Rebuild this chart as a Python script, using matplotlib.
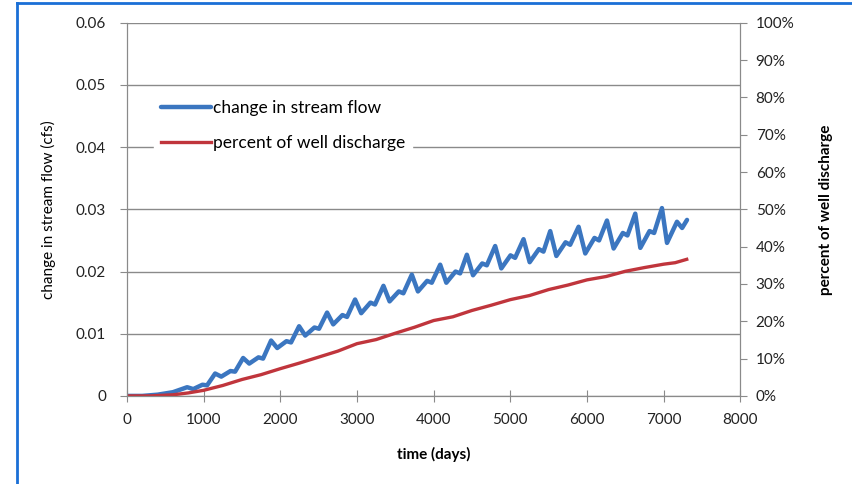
import matplotlib.pyplot as plt
from matplotlib.lines import Line2D
from matplotlib.ticker import FuncFormatter

# change in stream flow (cfs)
flow_days = [0, 200, 400, 600,
             785, 865, 985, 1045, 1150, 1230, 1350, 1410,
             1515, 1595, 1715, 1775, 1880, 1960, 2080, 2140,
             2245, 2325, 2445, 2505, 2610, 2690, 2810, 2870,
             2975, 3055, 3175, 3235, 3345, 3425, 3545, 3605,
             3715, 3795, 3915, 3975, 4085, 4165, 4285, 4345,
             4433, 4513, 4633, 4693, 4802, 4882, 5002, 5062,
             5172, 5252, 5372, 5432, 5520, 5600, 5720, 5780,
             5890, 5977, 6097, 6157, 6260, 6347, 6467, 6527,
             6629, 6695, 6815, 6875, 6977, 7043, 7173, 7240, 7304]
flow_cfs = [0.0, 0.0, 0.0002, 0.0006,
            0.0014, 0.0011, 0.0018, 0.0017, 0.0036, 0.0031, 0.0040, 0.0039,
            0.0061, 0.0052, 0.0062, 0.0060, 0.0089, 0.0077, 0.0088, 0.0086,
            0.0112, 0.0097, 0.0110, 0.0108, 0.0134, 0.0115, 0.0130, 0.0127,
            0.0155, 0.0133, 0.0150, 0.0147, 0.0177, 0.0152, 0.0168, 0.0165,
            0.0195, 0.0168, 0.0185, 0.0182, 0.0211, 0.0182, 0.0200, 0.0197,
            0.0227, 0.0194, 0.0213, 0.0210, 0.0241, 0.0205, 0.0226, 0.0222,
            0.0252, 0.0215, 0.0236, 0.0232, 0.0265, 0.0225, 0.0247, 0.0243,
            0.0272, 0.0229, 0.0254, 0.0250, 0.0282, 0.0237, 0.0262, 0.0258,
            0.0293, 0.0238, 0.0265, 0.0262, 0.0302, 0.0246, 0.0280, 0.0270, 0.0283]

# percent of well discharge
pct_days = [0, 300, 600, 800, 1000, 1250, 1500, 1750, 2000, 2250, 2500,
            2750, 3000, 3250, 3500, 3750, 4000, 4250, 4500, 4750, 5000,
            5250, 5500, 5750, 6000, 6250, 6500, 6750, 7000, 7150, 7300]
pct_discharge = [0.0, 0.0, 0.3, 0.8, 1.5, 2.8, 4.4, 5.7, 7.3, 8.8, 10.4,
                 12.0, 14.0, 15.1, 16.8, 18.4, 20.2, 21.2, 22.9, 24.3, 25.8,
                 26.9, 28.5, 29.7, 31.1, 32.0, 33.4, 34.4, 35.3, 35.7, 36.6]

x_ticks = list(range(0, 8001, 1000))
left_ticks = [0, 0.01, 0.02, 0.03, 0.04, 0.05, 0.06]
right_ticks = list(range(0, 101, 10))

plt.rcParams["font.family"] = ["Lato", "DejaVu Sans"]
grey = "#8a8a8a"
blue = "#3b76c0"
red = "#c0353c"

fig = plt.figure(figsize=(8.52, 4.84), dpi=100)
ax = fig.add_axes([0.149, 0.182, 0.720, 0.771])
ax2 = ax.twinx()

ln1, = ax.plot(flow_days, flow_cfs, color=blue, lw=3.2,
               solid_joinstyle="round", solid_capstyle="round")
ln2, = ax2.plot(pct_days, pct_discharge, color=red, lw=2.4)

ax.set_xlim(0, 8000)
ax.set_ylim(0, 0.06)
ax2.set_ylim(0, 100)
ax.set_xticks(x_ticks)
ax.set_yticks(left_ticks)
ax.set_yticklabels(["0", "0.01", "0.02", "0.03", "0.04", "0.05", "0.06"])
ax2.set_yticks(right_ticks)
ax2.yaxis.set_major_formatter(FuncFormatter(lambda v, p: f"{int(v)}%"))

ax.grid(True, axis="y", color=grey, lw=1.0)
ax.set_axisbelow(True)

for a in (ax, ax2):
    a.spines["top"].set_visible(False)
    for s in ("left", "right", "bottom"):
        a.spines[s].set_color(grey)
    a.tick_params(colors=grey, labelcolor="#222222", labelsize=11, length=5)
ax.tick_params(axis="x", direction="inout", length=8, pad=8)
ax.tick_params(axis="y", pad=10)
ax2.tick_params(axis="y", pad=6)

ax.set_xlabel("time (days)", fontsize=11, fontweight="bold", labelpad=15)
ax.set_ylabel("change in stream flow (cfs)", fontsize=11, labelpad=14)
ax2.set_ylabel("percent of well discharge", fontsize=11, fontweight="bold",
               labelpad=18)

leg = ax2.legend([ln1, ln2], ["change in stream flow", "percent of well discharge"],
                 loc="upper left", bbox_to_anchor=(0.03, 0.835), fontsize=12.5,
                 handlelength=2.9, handletextpad=0.1, labelspacing=1.1,
                 frameon=True, fancybox=False, borderpad=0.4)
leg.get_frame().set_facecolor("white")
leg.get_frame().set_edgecolor("white")
leg.get_frame().set_alpha(1.0)

# blue frame of the screenshot
fig.add_artist(Line2D([17 / 852, 17 / 852], [0, 1 - 3 / 484],
                      transform=fig.transFigure, color="#1a6fd6", lw=2))
fig.add_artist(Line2D([17 / 852, 1], [1 - 3 / 484, 1 - 3 / 484],
                      transform=fig.transFigure, color="#1a6fd6", lw=2))

fig.savefig("out.png", dpi=100)
